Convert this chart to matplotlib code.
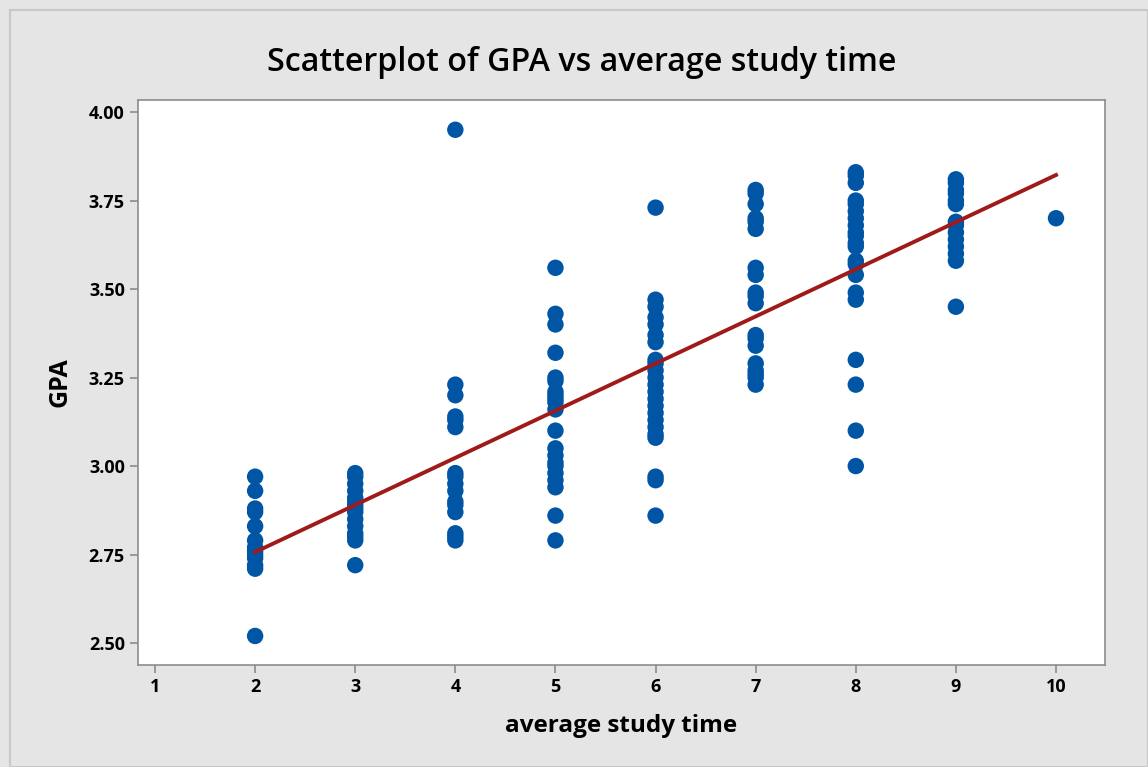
import matplotlib
import matplotlib.pyplot as plt
import numpy as np
from matplotlib.patches import Rectangle

matplotlib.use("Agg")

# study hours per column and the GPA values
study_2 = [2.97, 2.93, 2.88, 2.87, 2.83, 2.79, 2.77, 2.76, 2.75, 2.74, 2.72, 2.71, 2.52]
study_3 = [2.98, 2.97, 2.95, 2.93, 2.91, 2.90, 2.89, 2.88, 2.87, 2.85, 2.83, 2.81, 2.80, 2.79, 2.72]
study_4 = [3.95, 3.23, 3.20, 3.14, 3.13, 3.11, 2.98, 2.97, 2.95, 2.93, 2.90, 2.89, 2.87, 2.81, 2.80, 2.79]
study_5 = [3.56, 3.43, 3.40, 3.32, 3.25, 3.24, 3.21, 3.20, 3.19, 3.18, 3.16, 3.10,
           3.05, 3.03, 3.01, 3.00, 2.98, 2.96, 2.94, 2.86, 2.79]
study_6 = [3.73, 3.47, 3.45, 3.42, 3.40, 3.37, 3.35, 3.30, 3.29, 3.27, 3.25, 3.23, 3.21,
           3.19, 3.17, 3.15, 3.13, 3.11, 3.09, 3.08, 2.97, 2.96, 2.86]
study_7 = [3.78, 3.77, 3.74, 3.70, 3.69, 3.67, 3.56, 3.54, 3.49, 3.48, 3.46, 3.37, 3.36,
           3.34, 3.29, 3.27, 3.26, 3.25, 3.23]
study_8 = [3.83, 3.82, 3.80, 3.75, 3.74, 3.72, 3.70, 3.68, 3.66, 3.65, 3.63, 3.62, 3.58,
           3.57, 3.54, 3.49, 3.47, 3.30, 3.23, 3.10, 3.00]
study_9 = [3.81, 3.80, 3.78, 3.77, 3.75, 3.74, 3.69, 3.68, 3.66, 3.64, 3.62, 3.60, 3.58, 3.45]
study_10 = [3.70]

hours = [2, 3, 4, 5, 6, 7, 8, 9, 10]
columns = [study_2, study_3, study_4, study_5, study_6, study_7, study_8, study_9, study_10]

x_ticks = list(range(1, 11))
y_ticks = [2.50, 2.75, 3.00, 3.25, 3.50, 3.75, 4.00]

x = np.concatenate([[h] * len(c) for h, c in zip(hours, columns)])
y = np.concatenate(columns)

slope, intercept = np.polyfit(x, y, 1)

plt.rcParams["font.family"] = ["Open Sans", "DejaVu Sans"]

fig = plt.figure(figsize=(11.48, 7.67), dpi=100, facecolor="#e5e5e5")
fig.patches.append(Rectangle((0.009, 0.0), 0.991, 0.987, transform=fig.transFigure,
                             fill=False, edgecolor="#c8c8c8", linewidth=1.5))
ax = fig.add_axes([0.1202, 0.133, 0.8424, 0.7366])

ax.scatter(x, y, s=140, color="#0055a5", edgecolors="none", zorder=3)
xl = np.array([x.min(), x.max()])
ax.plot(xl, intercept + slope * xl, color="#a11a1a", linewidth=2.8, zorder=4)

ax.set_xlim(0.83, 10.49)
ax.set_ylim(2.438, 4.034)
ax.set_xticks(x_ticks)
ax.set_yticks(y_ticks)
ax.set_yticklabels([f"{v:.2f}" for v in y_ticks])

for s in ax.spines.values():
    s.set_color("#8c8c8c")
    s.set_linewidth(1.2)
ax.tick_params(direction="out", length=6, width=1.2, color="#8c8c8c", labelsize=13)
for lab in ax.get_xticklabels() + ax.get_yticklabels():
    lab.set_fontweight("bold")

ax.set_xlabel("average study time", fontsize=17.5, fontweight="bold", labelpad=13)
ax.set_ylabel("GPA", fontsize=18, fontweight="bold", labelpad=12)
fig.text(0.507, 0.918, "Scatterplot of GPA vs average study time", fontsize=23.2,
         fontweight="semibold", ha="center", va="center")

fig.savefig("out.png", dpi=100, facecolor=fig.get_facecolor())
